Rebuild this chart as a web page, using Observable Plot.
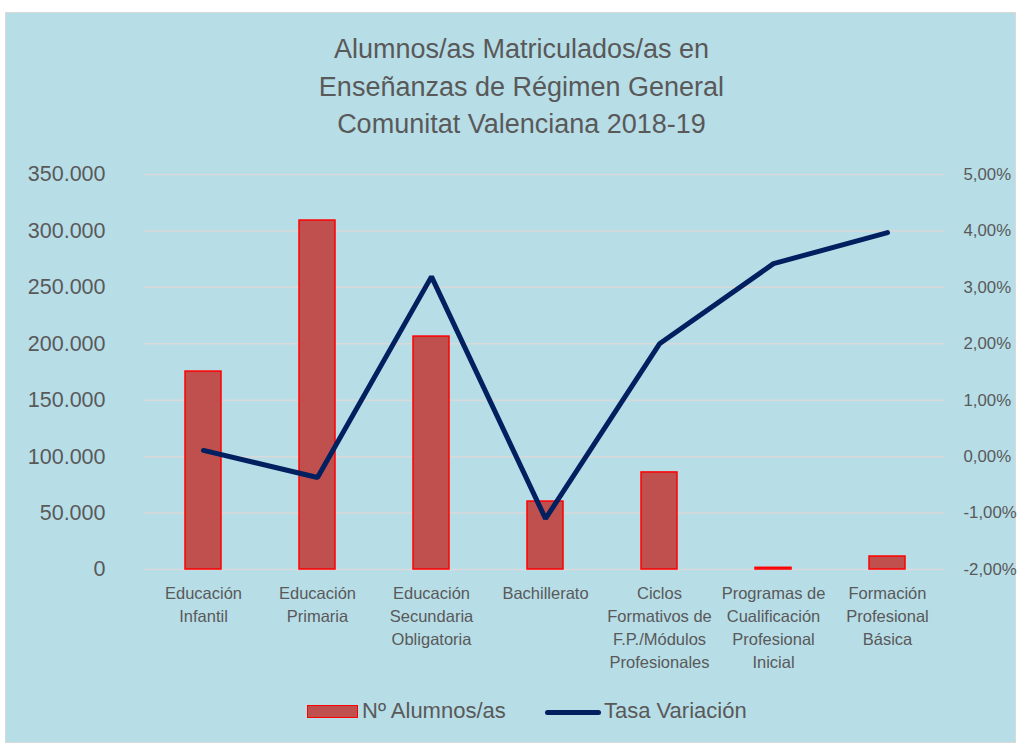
<!DOCTYPE html>
<html>
<head>
<meta charset="utf-8">
<script src="https://cdn.jsdelivr.net/npm/d3@7"></script>
<script src="https://cdn.jsdelivr.net/npm/@observablehq/plot@0.6"></script>
<style>
  html, body { margin: 0; padding: 0; background: #ffffff; }
  body { width: 1018px; height: 745px; position: relative; overflow: hidden; font-family: "Liberation Sans", Arial, sans-serif; color: #595959; }
  #frame { position: absolute; left: 5px; top: 12px; width: 1011px; height: 731px; background: #b7dde7; border: 1px solid #d9d9d9; box-sizing: border-box; }
  #title { position: absolute; left: 0; top: 31px; width: 1043px; text-align: center; font-size: 27px; line-height: 37.5px; color: #595959; }
  #chart { position: absolute; left: 0; top: 150px; }
  #legend { position: absolute; top: 698px; left: 0; width: 1018px; height: 28px; font-size: 22px; color: #595959; }
  .sw-bar { position: absolute; left: 307px; top: 7px; width: 51px; height: 13px; background: #c0504d; border: 1.5px solid #ff0000; box-sizing: border-box; }
  .sw-line { position: absolute; left: 545px; top: 12px; width: 56px; height: 5px; background: #002060; border-radius: 3px; }
  .lg-t { position: absolute; top: 0px; white-space: nowrap; }
</style>
</head>
<body>
<div id="frame"></div>
<div id="title">Alumnos/as Matriculados/as en<br>Enseñanzas de Régimen General<br>Comunitat Valenciana 2018-19</div>
<div id="chart"></div>
<div id="legend">
  <div class="sw-bar"></div><div class="lg-t" style="left:362px">Nº Alumnos/as</div>
  <div class="sw-line"></div><div class="lg-t" style="left:604px">Tasa Variación</div>
</div>
<script>
const categories = [
  "Educación\nInfantil",
  "Educación\nPrimaria",
  "Educación\nSecundaria\nObligatoria",
  "Bachillerato",
  "Ciclos\nFormativos de\nF.P./Módulos\nProfesionales",
  "Programas de\nCualificación\nProfesional\nInicial",
  "Formación\nProfesional\nBásica"
];
const alumnos = [175400, 309200, 206400, 60200, 86000, 1500, 11500];
const tasaVariacion = [0.11, -0.37, 3.19, -1.10, 2.00, 3.42, 3.97]; // %
const leftTicks = [0, 50000, 100000, 150000, 200000, 250000, 300000, 350000];
const rightTicks = [-2, -1, 0, 1, 2, 3, 4, 5];

const Y_MAX = 350000, P_MIN = -2, P_MAX = 5;
const pctToY = p => (p - P_MIN) / (P_MAX - P_MIN) * Y_MAX;

const thousands = d3.formatLocale({decimal: ",", thousands: ".", grouping: [3], currency: ["", "€"]}).format(",.0f");
const pctFmt = p => p.toFixed(2).replace(".", ",") + "%";

const bars = categories.map((c, i) => ({cat: c, value: alumnos[i]}));
const line = categories.map((c, i) => ({cat: c, pct: tasaVariacion[i], y: pctToY(tasaVariacion[i])}));

const plot = Plot.plot({
  width: 1018,
  height: 530,
  marginTop: 24,
  marginBottom: 111,
  marginLeft: 144,
  marginRight: 73,
  style: {background: "transparent", fontFamily: "'Liberation Sans', Arial, sans-serif", color: "#595959", overflow: "visible"},
  x: {domain: categories, paddingInner: 0.685, paddingOuter: 0.3425, label: null},
  y: {domain: [0, Y_MAX], label: null},
  marks: [
    Plot.ruleY(leftTicks, {stroke: "#d9d9d9", strokeWidth: 1.5}),
    Plot.barY(bars, {x: "cat", y: "value", fill: "#c0504d", stroke: "#ff0000", strokeWidth: 1.5}),
    Plot.lineY(line, {x: "cat", y: "y", stroke: "#002060", strokeWidth: 5, strokeLinecap: "round", strokeLinejoin: "miter"}),
    Plot.axisY({ticks: leftTicks, tickFormat: thousands, tickSize: 0, tickPadding: 39, fontSize: 21.5, fill: "#595959", label: null}),
    Plot.axisY({anchor: "right", ticks: rightTicks.map(pctToY), tickFormat: (d, i) => pctFmt(rightTicks[i]), tickSize: 0, tickPadding: 18, fontSize: 16.8, fill: "#595959", label: null}),
    Plot.axisX({tickSize: 0, tickPadding: 13, fontSize: 16.5, lineHeight: 1.39, fill: "#595959", label: null, textAnchor: "middle"})
  ]
});
document.getElementById("chart").appendChild(plot);
</script>
</body>
</html>
